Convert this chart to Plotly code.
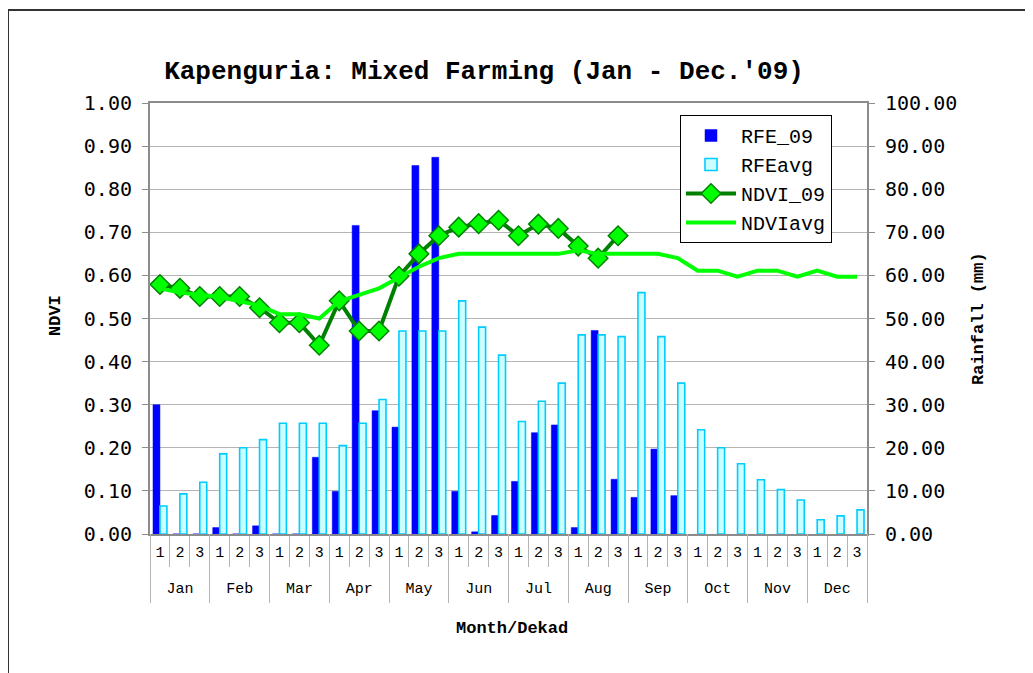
import plotly.graph_objects as go

# Month / dekad categories
months = ["Jan", "Feb", "Mar", "Apr", "May", "Jun", "Jul", "Aug", "Sep", "Oct", "Nov", "Dec"]
dekads = ["1", "2", "3"]

# Rainfall (mm), right axis
rfe_09 = [30.0, 0.0, 0.0, 1.5, 0.0, 1.9, 0.0, 0.0, 17.8, 9.9, 71.6, 28.6,
          24.8, 85.5, 87.4, 9.9, 0.5, 4.3, 12.2, 23.5, 25.3, 1.5, 47.2, 12.7,
          8.5, 19.7, 8.9, None, None, None, None, None, None, None, None, None]
rfe_avg = [6.5, 9.3, 12.0, 18.6, 20.0, 21.9, 25.7, 25.7, 25.7, 20.5, 25.7, 31.2,
           47.1, 47.1, 47.1, 54.1, 48.0, 41.5, 26.1, 30.8, 35.0, 46.2, 46.2, 45.8,
           56.0, 45.8, 35.0, 24.2, 20.0, 16.3, 12.6, 10.3, 7.9, 3.3, 4.2, 5.6]

# NDVI, left axis
ndvi_09 = [0.579, 0.570, 0.551, 0.551, 0.551, 0.525, 0.490, 0.490, 0.438, 0.541, 0.471, 0.471,
           0.598, 0.650, 0.692, 0.712, 0.720, 0.728, 0.692, 0.719, 0.709, 0.668, 0.640, 0.692,
           None, None, None, None, None, None, None, None, None, None, None, None]
ndvi_avg = [0.570, 0.560, 0.555, 0.550, 0.540, 0.530, 0.510, 0.510, 0.500, 0.540, 0.555, 0.570,
            0.595, 0.620, 0.640, 0.650, 0.650, 0.650, 0.650, 0.650, 0.650, 0.658, 0.650, 0.650,
            0.650, 0.650, 0.640, 0.611, 0.611, 0.597, 0.611, 0.611, 0.597, 0.611, 0.597, 0.597]

# one category per dekad, labelled with the dekad number
cats = [f"{m} {d}" for m in months for d in dekads]
dekad_text = [d for m in months for d in dekads]
month_pos = [i + 0.5 for i in range(len(months))]

MONO = "Liberation Mono"
SANS_MONO = "DejaVu Sans Mono"
GRID = "#b4b4b4"
AXIS = "#8c8c8c"

# page body has an 8px margin, so everything is laid out 8px smaller
W, H = 1025, 665
DOM0 = 69 / 500   # plot bottom sits above the month row


def px_x(xref):
    return (xref - 150) / 717


def px_y(yref):
    return (603 - yref) / 500


fig = go.Figure()
fig.add_trace(go.Bar(x=cats, y=rfe_09, name="RFE_09", yaxis="y",
                     marker=dict(color="#0000ff", line=dict(color="#0000ff", width=0.5))))
fig.add_trace(go.Bar(x=cats, y=rfe_avg, name="RFEavg", yaxis="y",
                     marker=dict(color="#ccffff", line=dict(color="#00ccff", width=1.6))))
fig.add_trace(go.Scatter(x=cats, y=ndvi_09, name="NDVI_09", yaxis="y2", mode="lines+markers",
                         line=dict(color="#008000", width=4),
                         marker=dict(symbol="diamond", size=15, color="#00ff00",
                                     line=dict(color="#008000", width=1.5))))
fig.add_trace(go.Scatter(x=cats, y=ndvi_avg, name="NDVIavg", yaxis="y2", mode="lines",
                         line=dict(color="#00ff00", width=4)))
# empty trace so the month axis gets drawn
fig.add_trace(go.Scatter(x=month_pos, y=[None] * len(months), xaxis="x2", yaxis="y",
                         mode="markers", showlegend=False, hoverinfo="skip"))

fig.update_layout(
    width=W, height=H,
    margin=dict(l=142, r=166, t=95, b=70),
    paper_bgcolor="white", plot_bgcolor="white",
    barmode="group", bargap=0.3, bargroupgap=0,
    showlegend=True,
    title=dict(text="<b>Kapenguria: Mixed Farming (Jan - Dec.'09)</b>",
               x=(484 - 8) / W, y=1 - (70 - 8) / H, xanchor="center", yanchor="middle",
               font=dict(family=MONO, size=26, color="black")),
    legend=dict(x=px_x(680), y=px_y(115), xanchor="left", yanchor="top",
                bgcolor="white", bordercolor="black", borderwidth=1,
                font=dict(family=MONO, size=20, color="black"),
                itemwidth=50, tracegroupgap=0),
    xaxis=dict(type="category", categoryorder="array", categoryarray=cats,
               range=[-0.5, len(cats) - 0.5],
               tickmode="array", tickvals=cats, ticktext=dekad_text, tickangle=0,
               tickson="boundaries", ticks="outside", ticklen=31, tickcolor=GRID, tickwidth=1,
               ticklabelstandoff=3,
               showline=True, linecolor=AXIS, linewidth=2, mirror=True, showgrid=False,
               tickfont=dict(family=MONO, size=15, color="black")),
    xaxis2=dict(overlaying="x", anchor="free", position=0, side="bottom",
                range=[0, len(months)], tickmode="array",
                tickvals=month_pos, ticktext=months, tickangle=0,
                ticks="", ticklabelposition="inside", ticklabelstandoff=4,
                minor=dict(ticks="inside", ticklen=69, tick0=0, dtick=1, tickcolor=GRID, tickwidth=1),
                showline=False, showgrid=False, zeroline=False,
                tickfont=dict(family=MONO, size=15, color="black")),
    yaxis=dict(domain=[DOM0, 1], side="right", range=[0, 100], dtick=10, tickformat=".2f",
               showgrid=True, gridcolor=GRID, gridwidth=1,
               showline=True, linecolor=AXIS, linewidth=2,
               ticks="outside", ticklen=6, tickcolor=AXIS, ticklabelstandoff=6,
               tickfont=dict(family=SANS_MONO, size=20, color="black"), zeroline=False),
    yaxis2=dict(domain=[DOM0, 1], side="left", overlaying="y", range=[0, 1], dtick=0.1,
                tickformat=".2f", showgrid=False, showline=True, linecolor=AXIS, linewidth=2,
                ticks="outside", ticklen=6, tickcolor=AXIS, ticklabelstandoff=6,
                tickfont=dict(family=SANS_MONO, size=20, color="black"), zeroline=False),
)

# axis titles
title_font = dict(family=MONO, size=17, color="black")
fig.add_annotation(text="<b>NDVI</b>", xref="paper", yref="paper", x=px_x(55), y=px_y(315),
                   xanchor="center", yanchor="middle", textangle=-90, showarrow=False, font=title_font)
fig.add_annotation(text="<b>Rainfall (mm)</b>", xref="paper", yref="paper", x=px_x(978), y=px_y(318),
                   xanchor="center", yanchor="middle", textangle=-90, showarrow=False, font=title_font)
fig.add_annotation(text="<b>Month/Dekad</b>", xref="paper", yref="paper", x=px_x(512), y=px_y(628),
                   xanchor="center", yanchor="middle", showarrow=False, font=title_font)

# outer chart frame
fig.add_shape(type="rect", xref="paper", yref="paper",
              x0=px_x(8), x1=px_x(1031), y0=px_y(700), y1=px_y(10),
              line=dict(color="#333333", width=2), layer="below")

fig.write_html("out.html")
